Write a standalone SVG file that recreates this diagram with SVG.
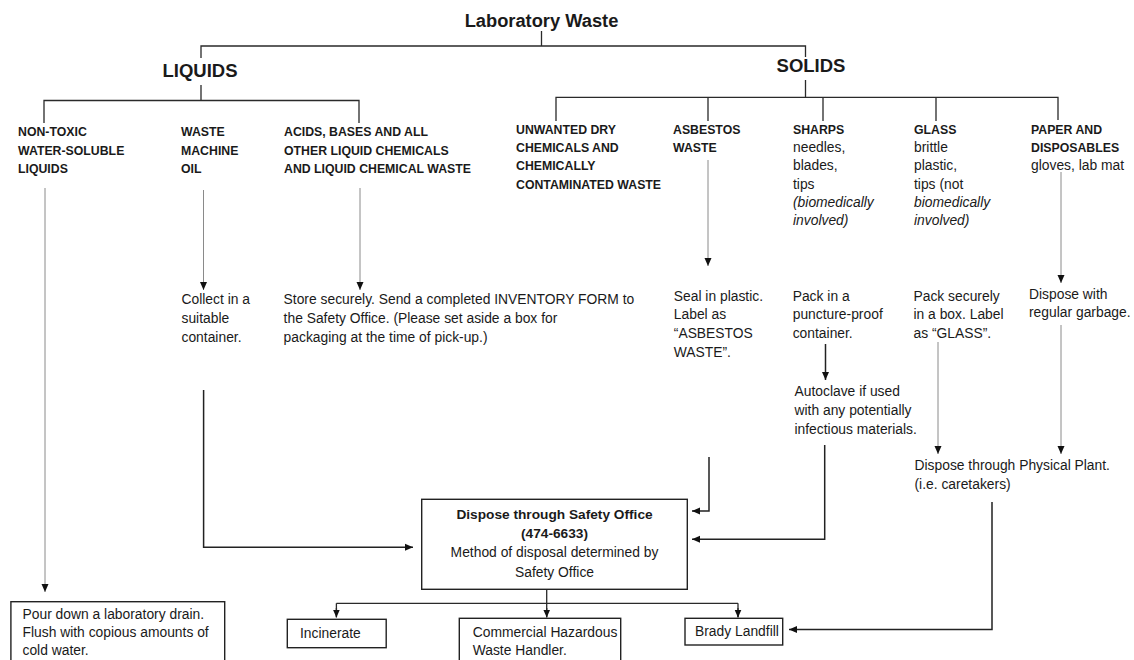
<svg xmlns="http://www.w3.org/2000/svg" width="1134" height="660" viewBox="0 0 1134 660">
<style>
text{font-family:"Liberation Sans",Arial,Helvetica,sans-serif;fill:#1a1a1a}
.ti{font-size:18.3px;font-weight:bold}
.big{font-size:18.5px;font-weight:bold}
.h{font-size:12.3px;font-weight:bold}
.t{font-size:13.85px}
.i{font-size:13.85px;font-style:italic}
.bx{font-size:13.7px;font-weight:bold}
.tree{stroke:#2a2a2a;stroke-width:1.3;fill:none}
.thin{stroke:#8a8a8a;stroke-width:1;fill:none}
.thk{stroke:#222;stroke-width:1.5;fill:none}
.box{stroke:#222;stroke-width:1.4;fill:#fff}
</style>
<defs>
<marker id="ah" viewBox="0 0 8 8" refX="8" refY="4" markerWidth="8" markerHeight="8" markerUnits="userSpaceOnUse" orient="auto">
<path d="M0,0.5 L8,4 L0,7.5 z" fill="#111"/>
</marker>
</defs>
<rect width="1134" height="660" fill="#fff"/>

<g id="connectors">
<path class="tree" d="M541.5,31 V46 M201,58 V46 H805.5 V57"/>
<path class="tree" d="M201,85 V100.5 M44,123 V100.5 H359 V123"/>
<path class="tree" d="M805.5,80 V97.3 M556,121 V97.3 H1058 V120 M708,97.3 V121 M823,97.3 V121 M936,97.3 V121"/>
<path class="thin" d="M45,188 V592" marker-end="url(#ah)"/>
<path class="thin" d="M203.5,190 V290" marker-end="url(#ah)"/>
<path class="thin" d="M360,188 V290" marker-end="url(#ah)"/>
<path class="thin" d="M708,160 V266" marker-end="url(#ah)"/>
<path class="thin" d="M1061,172 V283" marker-end="url(#ah)"/>
<path class="thk" d="M203.6,390 V547.3 H413" marker-end="url(#ah)"/>
<path class="thk" d="M709,457 V511 H692" marker-end="url(#ah)"/>
<path class="thk" d="M825.5,344 V380" marker-end="url(#ah)"/>
<path class="thk" d="M824.7,445 V539.3 H692" marker-end="url(#ah)"/>
<path class="thin" d="M938,342 V454" marker-end="url(#ah)"/>
<path class="thin" d="M1061,325 V454" marker-end="url(#ah)"/>
<path class="thk" d="M992,502 V629.5 H789" marker-end="url(#ah)"/>
<path class="tree" d="M546.7,589.3 V603.3 M336.4,603.3 H738 M336.4,603.3 V617 M546.7,603.3 V617 M738,603.3 V617"/>
<path class="tree" d="M336.4,608 V617.5" marker-end="url(#ah)"/>
<path class="tree" d="M546.7,608 V617.5" marker-end="url(#ah)"/>
<path class="tree" d="M738,608 V617.5" marker-end="url(#ah)"/>
</g>

<g id="title"><text class="ti" x="541.5" y="27" text-anchor="middle">Laboratory Waste</text></g>
<g id="liquids"><text class="big" x="200" y="77" text-anchor="middle">LIQUIDS</text></g>
<g id="solids"><text class="big" x="811" y="72" text-anchor="middle">SOLIDS</text></g>

<g id="nontoxic"><text class="h" x="18" y="136">NON-TOXIC</text><text class="h" x="18" y="154.5">WATER-SOLUBLE</text><text class="h" x="18" y="173">LIQUIDS</text></g>
<g id="oil"><text class="h" x="181" y="136">WASTE</text><text class="h" x="181" y="154.5">MACHINE</text><text class="h" x="181" y="173">OIL</text></g>
<g id="acids"><text class="h" x="284" y="136">ACIDS, BASES AND ALL</text><text class="h" x="284" y="154.5">OTHER LIQUID CHEMICALS</text><text class="h" x="284" y="173">AND LIQUID CHEMICAL WASTE</text></g>
<g id="drychem"><text class="h" x="516" y="133.5">UNWANTED DRY</text><text class="h" x="516" y="152">CHEMICALS AND</text><text class="h" x="516" y="170.3">CHEMICALLY</text><text class="h" x="516" y="188.6">CONTAMINATED WASTE</text></g>
<g id="asbestos"><text class="h" x="673" y="133.5">ASBESTOS</text><text class="h" x="673" y="152">WASTE</text></g>
<g id="sharps"><text class="h" x="793" y="133.5">SHARPS</text><text class="t" x="793" y="152">needles,</text><text class="t" x="793" y="170.3">blades,</text><text class="t" x="793" y="188.6">tips</text><text class="i" x="793" y="207">(biomedically</text><text class="i" x="793" y="225.3">involved)</text></g>
<g id="glass"><text class="h" x="914" y="133.5">GLASS</text><text class="t" x="914" y="152">brittle</text><text class="t" x="914" y="170.3">plastic,</text><text class="t" x="914" y="188.6">tips (not</text><text class="i" x="914" y="207">biomedically</text><text class="i" x="914" y="225.3">involved)</text></g>
<g id="paper"><text class="h" x="1031" y="133.5">PAPER AND</text><text class="h" x="1031" y="152">DISPOSABLES</text><text class="t" x="1031" y="170.3">gloves, lab mat</text></g>

<g id="collect"><text class="t" x="181.5" y="304">Collect in a</text><text class="t" x="181.5" y="323">suitable</text><text class="t" x="181.5" y="342">container.</text></g>
<g id="store"><text class="t" x="283.6" y="304">Store securely. Send a completed INVENTORY FORM to</text><text class="t" x="283.6" y="323">the Safety Office. (Please set aside a box for</text><text class="t" x="283.6" y="342">packaging at the time of pick-up.)</text></g>
<g id="seal"><text class="t" x="673.8" y="300.5">Seal in plastic.</text><text class="t" x="673.8" y="319.3">Label as</text><text class="t" x="673.8" y="338.2">“ASBESTOS</text><text class="t" x="673.8" y="357">WASTE”.</text></g>
<g id="pack"><text class="t" x="792.7" y="300.5">Pack in a</text><text class="t" x="792.7" y="319.3">puncture-proof</text><text class="t" x="792.7" y="338.2">container.</text></g>
<g id="autoclave"><text class="t" x="794.5" y="396">Autoclave if used</text><text class="t" x="794.5" y="415">with any potentially</text><text class="t" x="794.5" y="434">infectious materials.</text></g>
<g id="packglass"><text class="t" x="913.5" y="300.5">Pack securely</text><text class="t" x="913.5" y="319.3">in a box. Label</text><text class="t" x="913.5" y="338.2">as “GLASS”.</text></g>
<g id="garbage"><text class="t" x="1029" y="298.5">Dispose with</text><text class="t" x="1029" y="317.3">regular garbage.</text></g>
<g id="physplant"><text class="t" x="914.5" y="470">Dispose through Physical Plant.</text><text class="t" x="914.5" y="488.8">(i.e. caretakers)</text></g>

<g id="safetyoffice"><rect class="box" x="421.7" y="499.3" width="265.6" height="90"/>
<text class="bx" x="554.5" y="519.3" text-anchor="middle">Dispose through Safety Office</text>
<text class="bx" x="554.5" y="538.3" text-anchor="middle">(474-6633)</text>
<text class="t" x="554.5" y="557.3" text-anchor="middle">Method of disposal determined by</text>
<text class="t" x="554.5" y="576.5" text-anchor="middle">Safety Office</text></g>

<g id="drain"><rect class="box" x="10.9" y="601.7" width="213.8" height="70"/>
<text class="t" x="22.5" y="619.3">Pour down a laboratory drain.</text><text class="t" x="22.5" y="637">Flush with copious amounts of</text><text class="t" x="22.5" y="655">cold water.</text></g>
<g id="incinerate"><rect class="box" x="287.3" y="619.3" width="98.9" height="28.4"/><text class="t" x="300" y="637.5">Incinerate</text></g>
<g id="commercial"><rect class="box" x="459.3" y="618.3" width="161.4" height="60"/><text class="t" x="472.7" y="636.7">Commercial Hazardous</text><text class="t" x="472.7" y="655">Waste Handler.</text></g>
<g id="brady"><rect class="box" x="685" y="618.3" width="97.7" height="26.7"/><text class="t" x="695" y="635.5">Brady Landfill</text></g>
</svg>
